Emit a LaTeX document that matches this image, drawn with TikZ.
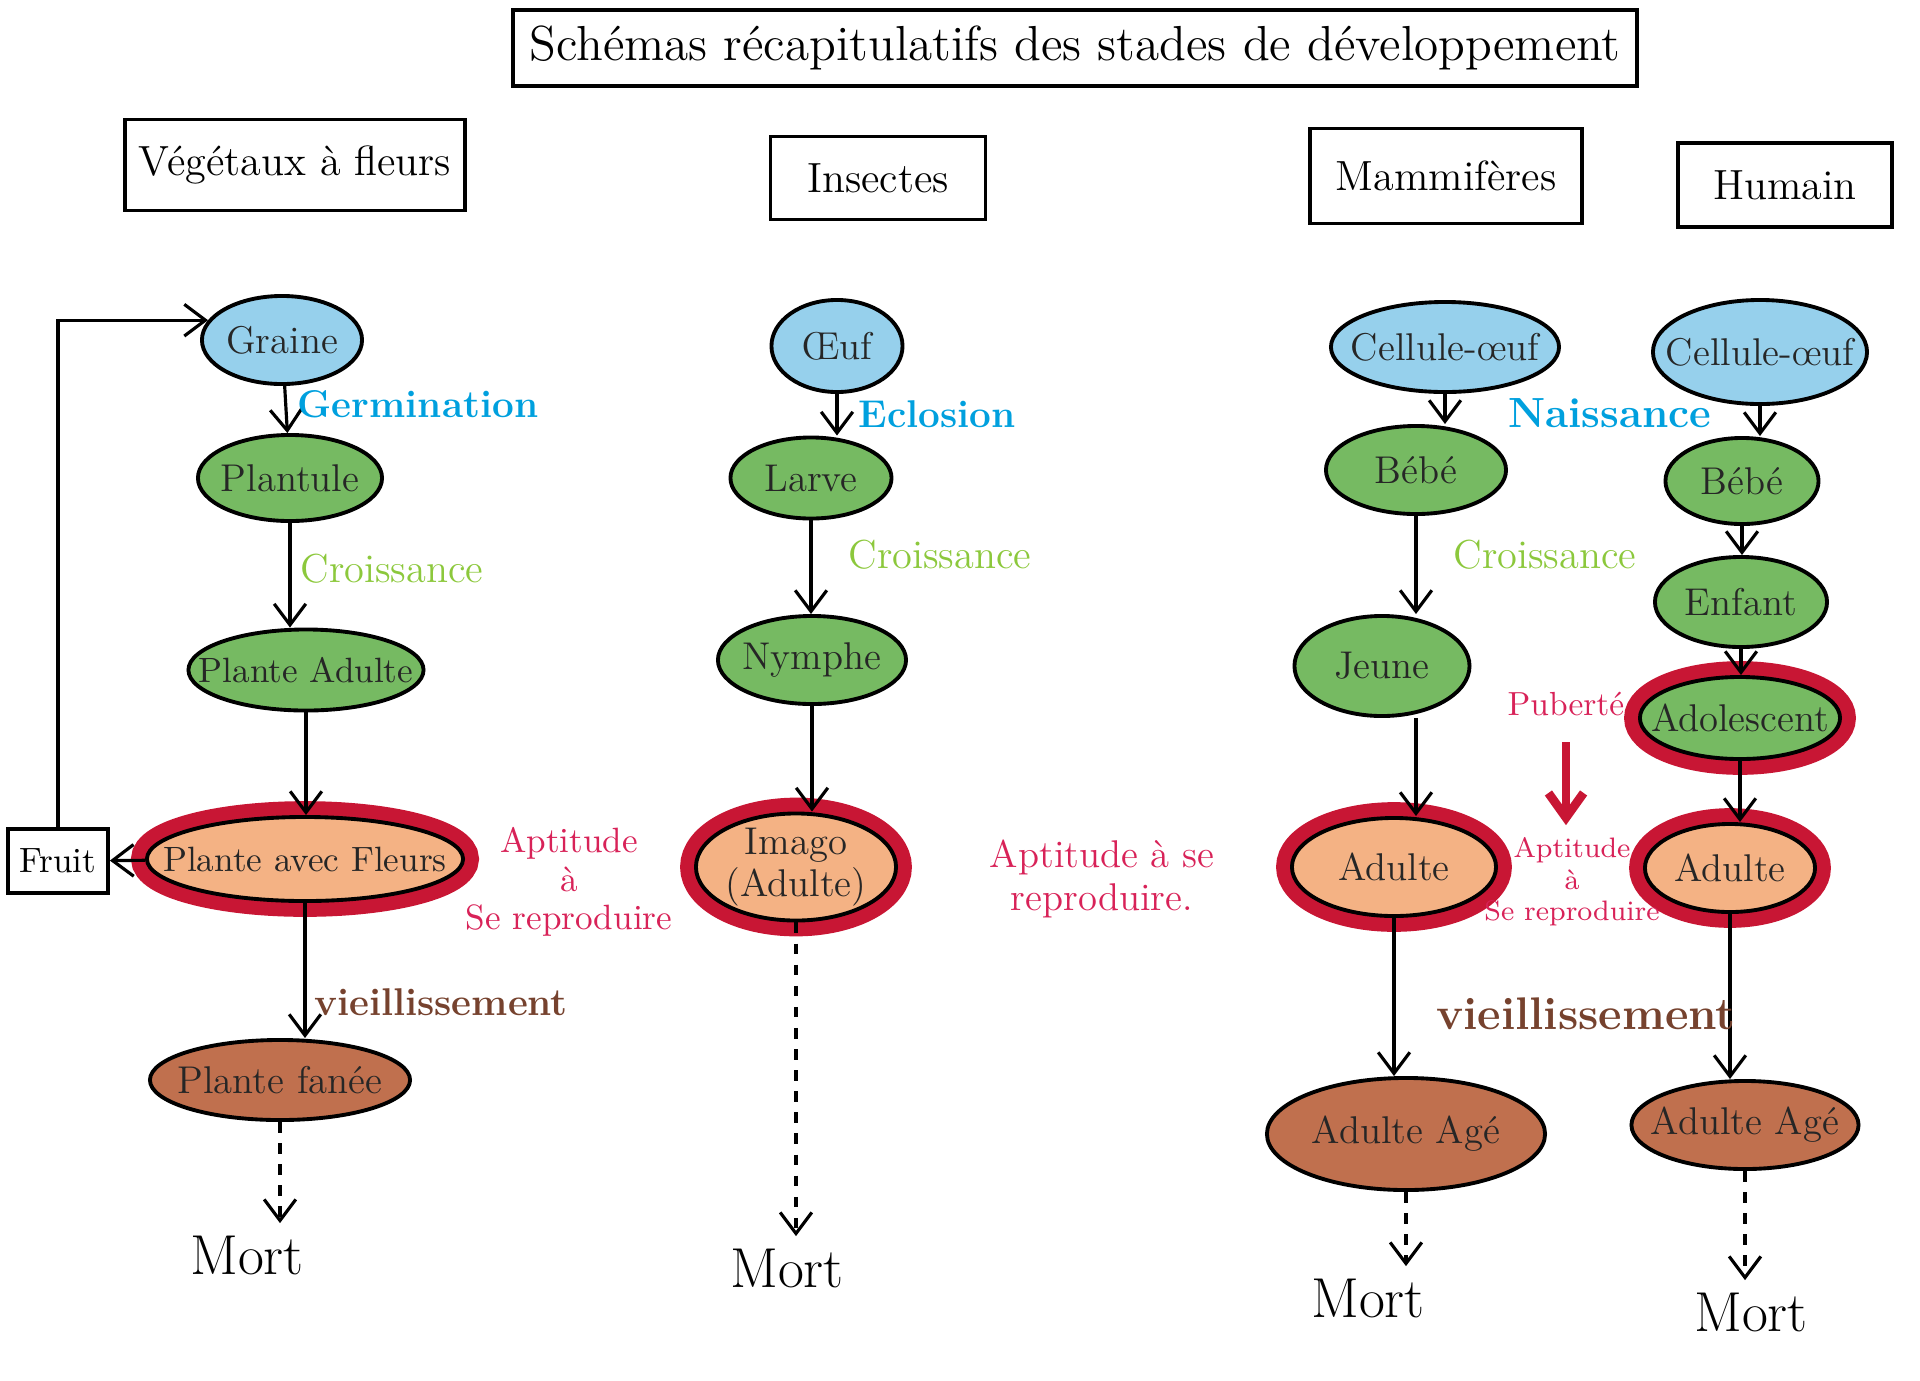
\documentclass[tikz,border=0pt]{standalone}
\usepackage{fontspec}
\usetikzlibrary{shapes.geometric}
\usetikzlibrary{arrows.meta}
\definecolor{myblue}{RGB}{150,208,236}
\definecolor{mygreen}{RGB}{118,186,98}
\definecolor{myorange}{RGB}{244,178,132}
\definecolor{mybrown}{RGB}{192,112,78}
\definecolor{myred}{RGB}{200,22,52}
\definecolor{txtblue}{RGB}{0,160,222}
\definecolor{txtgreen}{RGB}{140,200,60}
\definecolor{txtbrown}{RGB}{118,66,46}
\definecolor{txtred}{RGB}{216,34,88}

\begin{document}
\begin{tikzpicture}[x=0.01cm,y=-0.01cm,
  stage/.style={ellipse, draw=black, line width=1.1pt, inner sep=0pt, label={[stagetext]center:#1}},
  stagetext/.style={font=\fontsize{11}{12}\selectfont, align=center, text=black!85},
  ring/.style={preaction={draw=myred, line width=9pt}},
  flow/.style={-{Straight Barb[length=6pt,width=9pt]}, line width=0.9pt},
  death/.style={flow, dashed},
  header/.style={draw, line width=1pt, inner sep=2pt, font=\fontsize{12}{14}\selectfont},
  mort/.style={font=\fontsize{16}{18}\selectfont},
  phase/.style={font=\bfseries\fontsize{11}{13}\selectfont},
  aptitude/.style={text=txtred, align=center, font=\fontsize{10}{11}\selectfont}]
  \useasboundingbox (0,0) rectangle (1920,1381);

%titles:
  \node[header, minimum width=11.23cm, minimum height=0.76cm, font=\fontsize{14}{16}\selectfont] (title) at (1075,48) {Schémas récapitulatifs des stades de développement};
  \node[header, minimum width=3.4cm, minimum height=0.91cm] (vegetaux) at (295,165) {Végétaux à fleurs};
  \node[header, minimum width=2.15cm, minimum height=0.83cm] (insectes) at (878,178) {Insectes};
  \node[header, minimum width=2.72cm, minimum height=0.95cm] (mammiferes) at (1446,176) {Mammifères};
  \node[header, minimum width=2.14cm, minimum height=0.84cm] (humain) at (1785,185) {Humain};

%vegetaux:
  \node[stage=Graine, fill=myblue, minimum width=1.6cm, minimum height=0.88cm] (graine) at (282,340) {};
  \node[stage=Plantule, fill=mygreen, minimum width=1.84cm, minimum height=0.86cm] (plantule) at (290,478) {};
  \node[stage={\fontsize{10}{12}\selectfont Plante Adulte}, fill=mygreen, minimum width=2.35cm, minimum height=0.81cm] (pladulte) at (306,670) {};
  \node[stage={\fontsize{10}{12}\selectfont Plante avec Fleurs}, ring, fill=myorange, minimum width=3.16cm, minimum height=0.84cm] (fleurs) at (305,859) {};
  \node[stage={Plante fanée}, fill=mybrown, minimum width=2.6cm, minimum height=0.8cm] (fanee) at (280,1080) {};
  \node[draw, line width=1pt, fill=white, minimum width=0.9cm, minimum height=0.64cm, font=\fontsize{10}{12}\selectfont] (fruit) at (58,861) {Fruit};
  \node[mort] (mort1) at (247,1255) {Mort};

  \draw[flow] (graine) -- (plantule);
  \draw[flow] (plantule.south) -- (plantule.south |- pladulte.north);
  \draw[flow] (pladulte.south) -- (pladulte.south |- fleurs.north);
  \draw[flow] (fleurs.south) -- (fleurs.south |- fanee.north);
  \draw[flow] (fleurs) -- (fruit);
  \draw[flow] (fruit.north) |- (graine.165);
  \draw[death] (fanee.south) -- (fanee.south |- mort1.north);

  \node[phase, text=txtblue] (germination) at (418,404) {Germination};
  \node[phase, text=txtgreen, font=\fontsize{11.5}{14}\selectfont] (croissance1) at (392,569) {Croissance};
  \node[phase, text=txtbrown] (vieil1) at (441,1002) {vieillissement};
  \node[aptitude] (apt1) at (569,882) {Aptitude\\à\\Se reproduire};

%insectes:
  \node[stage=Œuf, fill=myblue, minimum width=1.31cm, minimum height=0.92cm] (oeuf) at (837,346) {};
  \node[stage=Larve, fill=mygreen, minimum width=1.61cm, minimum height=0.81cm] (larve) at (811,478) {};
  \node[stage=Nymphe, fill=mygreen, minimum width=1.88cm, minimum height=0.88cm] (nymphe) at (812,660) {};
  \node[stage={Imago\\(Adulte)}, ring, fill=myorange, minimum width=2.0cm, minimum height=1.07cm] (imago) at (796,867) {};
  \node[mort] (mort2) at (787,1268) {Mort};

  \draw[flow] (oeuf.south) -- (oeuf.south |- larve.north);
  \draw[flow] (larve.south) -- (larve.south |- nymphe.north);
  \draw[flow] (nymphe.south) -- (nymphe.south |- imago.north);
  \draw[death] (imago.south) -- (imago.south |- mort2.north);

  \node[phase, text=txtblue] (eclosion) at (937,414) {Eclosion};
  \node[phase, text=txtgreen, font=\fontsize{11.5}{14}\selectfont] (croissance2) at (940,555) {Croissance};
  \node[aptitude, font=\fontsize{11}{12}\selectfont] (apt2) at (1102,879) {Aptitude à se\\reproduire.};

%mammiferes:
  \node[stage={Cellule-œuf}, fill=myblue, minimum width=2.28cm, minimum height=0.9cm] (cellule3) at (1445,347) {};
  \node[stage=Bébé, fill=mygreen, minimum width=1.8cm, minimum height=0.88cm] (bebe3) at (1416,470) {};
  \node[stage=Jeune, fill=mygreen, minimum width=1.75cm, minimum height=1.0cm] (jeune) at (1382,666) {};
  \node[stage=Adulte, ring, fill=myorange, minimum width=2.04cm, minimum height=0.98cm] (adulte3) at (1394,867) {};
  \node[stage={Adulte Agé}, fill=mybrown, minimum width=2.78cm, minimum height=1.12cm] (age3) at (1406,1134) {};
  \node[mort] (mort3) at (1368,1298) {Mort};

  \draw[flow] (cellule3.south) -- (cellule3.south |- bebe3.north);
  \draw[flow] (bebe3.south) -- (bebe3.south |- jeune.north);
  \draw[flow] (bebe3.south |- jeune.south) -- (bebe3.south |- adulte3.north);
  \draw[flow] (adulte3.south) -- (adulte3.south |- age3.north);
  \draw[death] (age3.south) -- (age3.south |- mort3.north);

%humain:
  \node[stage={Cellule-œuf}, fill=myblue, minimum width=2.14cm, minimum height=1.04cm] (cellule4) at (1760,352) {};
  \node[stage=Bébé, fill=mygreen, minimum width=1.53cm, minimum height=0.86cm] (bebe4) at (1742,481) {};
  \node[stage=Enfant, fill=mygreen, minimum width=1.72cm, minimum height=0.9cm] (enfant) at (1741,602) {};
  \node[stage=Adolescent, ring, fill=mygreen, minimum width=2.0cm, minimum height=0.82cm] (ado) at (1740,718) {};
  \node[stage=Adulte, ring, fill=myorange, minimum width=1.7cm, minimum height=0.88cm] (adulte4) at (1730,868) {};
  \node[stage={Adulte Agé}, fill=mybrown, minimum width=2.27cm, minimum height=0.88cm] (age4) at (1745,1125) {};
  \node[mort] (mort4) at (1751,1312) {Mort};

  \draw[flow] (cellule4.south) -- (cellule4.south |- bebe4.north);
  \draw[flow] (bebe4.south) -- (bebe4.south |- enfant.north);
  \draw[flow] (enfant.south) -- (enfant.south |- ado.north);
  \draw[flow] (ado.south) -- (ado.south |- adulte4.north);
  \draw[flow] (adulte4.south) -- (adulte4.south |- age4.north);
  \draw[death] (age4.south) -- (age4.south |- mort4.north);

%phases mammiferes + humain:
  \node[phase, text=txtblue, font=\bfseries\fontsize{12}{14}\selectfont] (naissance) at (1610,413) {Naissance};
  \node[phase, text=txtgreen, font=\fontsize{11.5}{14}\selectfont] (croissance3) at (1545,555) {Croissance};
  \node[phase, text=txtbrown, font=\bfseries\fontsize{13}{15}\selectfont] (vieil3) at (1586,1014) {vieillissement};
  \node[aptitude, font=\fontsize{8}{9}\selectfont] (apt3) at (1572,882) {Aptitude\\à\\Se reproduire};
  \node[aptitude, font=\fontsize{9.5}{11}\selectfont] (puberte) at (1566,704) {Puberté};
  \draw[-{Straight Barb[length=7pt,width=10pt]}, myred, line width=2.5pt, shorten <=4pt] (puberte.south) -- (puberte.south |- apt3.north);

\end{tikzpicture}
\end{document}
